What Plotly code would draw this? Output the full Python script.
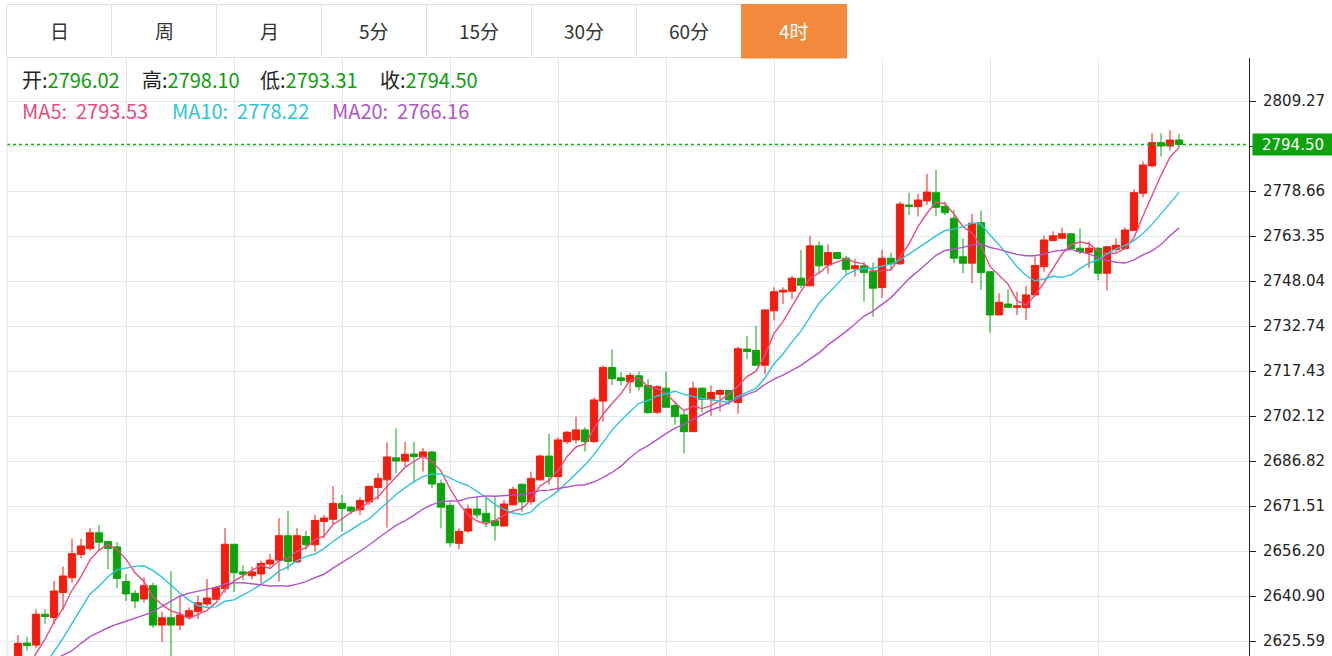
import plotly.graph_objects as go
import pandas as pd

# ---------------- data (4h candles) ----------------
opens = [2616.5, 2624.9, 2624.2, 2634.7, 2633.6, 2642.1, 2647.1, 2655.0, 2657.0, 2662.4,
         2659.4, 2657.6, 2645.8, 2641.8, 2639.9, 2644.4, 2631.0, 2633.5, 2631.0, 2633.9,
         2635.6, 2638.2, 2639.8, 2643.4, 2658.5, 2649.1, 2647.8, 2648.4, 2651.8, 2653.1,
         2661.4, 2652.5, 2661.1, 2658.3, 2666.2, 2667.0, 2672.4, 2671.1, 2670.2, 2672.9,
         2677.8, 2680.4, 2687.9, 2686.8, 2689.2, 2688.3, 2689.9, 2679.2, 2671.7, 2658.8,
         2663.0, 2670.5, 2669.0, 2666.5, 2664.7, 2671.9, 2678.9, 2673.0, 2680.4, 2688.5,
         2681.5, 2693.4, 2694.0, 2697.4, 2693.4, 2707.2, 2718.6, 2715.1, 2713.8, 2715.8,
         2712.5, 2703.4, 2711.6, 2705.7, 2702.5, 2696.8, 2711.6, 2707.8, 2709.5, 2710.8,
         2706.7, 2724.9, 2724.4, 2719.4, 2737.9, 2744.3, 2744.6, 2749.0, 2746.4, 2760.0,
         2753.5, 2757.7, 2755.8, 2752.2, 2753.2, 2751.4, 2745.8, 2755.8, 2753.9, 2773.9,
         2773.4, 2775.3, 2778.1, 2773.4, 2769.4, 2756.3, 2754.1, 2767.9, 2751.2, 2736.5,
         2740.2, 2739.1, 2739.0, 2743.3, 2752.9, 2761.8, 2762.6, 2764.1, 2759.2, 2757.8,
         2759.2, 2750.7, 2758.8, 2759.1, 2765.2, 2777.9, 2787.2, 2795.1, 2794.0, 2796.02]
highs = [2627.6, 2627.1, 2636.4, 2636.4, 2646.0, 2650.9, 2660.4, 2660.4, 2664.0, 2665.1,
         2659.6, 2659.2, 2648.3, 2642.9, 2647.3, 2645.4, 2635.6, 2649.3, 2641.2, 2637.0,
         2641.1, 2646.7, 2644.4, 2664.0, 2658.6, 2651.3, 2650.9, 2652.9, 2655.2, 2667.4,
         2669.9, 2664.0, 2663.0, 2668.5, 2668.5, 2678.3, 2675.3, 2671.5, 2674.5, 2678.4,
         2682.6, 2693.2, 2697.9, 2693.3, 2693.3, 2691.3, 2690.1, 2680.4, 2672.7, 2663.9,
         2671.9, 2675.0, 2674.1, 2674.7, 2673.6, 2678.1, 2679.2, 2683.2, 2689.0, 2696.0,
         2694.8, 2697.0, 2701.9, 2698.3, 2708.4, 2719.3, 2724.8, 2717.2, 2716.9, 2717.2,
         2714.6, 2712.6, 2717.2, 2707.0, 2703.6, 2713.8, 2711.9, 2712.5, 2711.2, 2711.0,
         2725.7, 2729.4, 2732.8, 2738.4, 2745.9, 2745.9, 2749.8, 2758.6, 2763.4, 2761.5,
         2760.5, 2757.9, 2756.6, 2755.6, 2754.6, 2754.3, 2758.7, 2757.7, 2775.1, 2778.1,
         2777.7, 2784.5, 2785.8, 2775.1, 2772.2, 2762.6, 2770.9, 2772.0, 2751.4, 2743.9,
         2745.2, 2744.4, 2746.4, 2756.3, 2763.5, 2764.9, 2766.2, 2764.3, 2765.9, 2761.5,
         2759.5, 2760.0, 2762.6, 2766.3, 2779.3, 2788.7, 2798.3, 2798.3, 2799.4, 2798.10]
lows = [2614.0, 2622.3, 2623.1, 2631.4, 2631.4, 2636.1, 2645.4, 2653.8, 2656.3, 2656.3,
        2650.0, 2643.5, 2639.2, 2636.7, 2638.6, 2630.1, 2625.2, 2619.5, 2629.3, 2633.1,
        2633.1, 2637.3, 2639.5, 2642.0, 2642.3, 2646.3, 2646.6, 2645.4, 2650.9, 2645.8,
        2649.7, 2652.2, 2656.6, 2656.0, 2660.5, 2665.4, 2662.8, 2668.7, 2668.5, 2671.9,
        2673.6, 2664.2, 2682.6, 2684.9, 2679.5, 2683.2, 2677.5, 2663.9, 2657.7, 2656.8,
        2662.4, 2667.2, 2664.3, 2659.7, 2664.5, 2671.7, 2669.4, 2671.9, 2680.1, 2678.7,
        2676.7, 2692.6, 2692.8, 2690.0, 2693.0, 2700.2, 2712.7, 2712.5, 2709.9, 2710.8,
        2702.8, 2702.8, 2705.0, 2699.1, 2689.4, 2696.7, 2703.3, 2702.1, 2703.6, 2705.9,
        2702.8, 2721.4, 2719.1, 2716.4, 2734.6, 2740.2, 2741.8, 2745.6, 2746.3, 2750.7,
        2750.5, 2755.4, 2750.5, 2749.5, 2741.0, 2735.9, 2742.3, 2751.6, 2753.5, 2770.5,
        2770.0, 2773.9, 2770.0, 2770.5, 2754.1, 2750.7, 2747.3, 2745.0, 2730.5, 2736.4,
        2738.8, 2736.5, 2734.8, 2742.7, 2751.2, 2761.5, 2762.2, 2758.8, 2757.1, 2752.4,
        2748.4, 2744.8, 2758.0, 2758.8, 2765.1, 2776.5, 2786.7, 2790.4, 2792.4, 2793.31]
closes = [2624.8, 2624.0, 2634.7, 2633.9, 2642.6, 2647.7, 2655.3, 2657.9, 2662.4, 2659.2,
          2657.1, 2646.9, 2641.6, 2639.2, 2644.4, 2631.0, 2633.5, 2631.0, 2634.4, 2635.9,
          2638.6, 2640.2, 2643.7, 2658.5, 2648.8, 2648.3, 2649.1, 2652.0, 2653.1, 2661.4,
          2652.7, 2661.4, 2658.3, 2666.6, 2667.4, 2672.4, 2670.7, 2669.8, 2673.4, 2678.2,
          2680.9, 2688.2, 2686.8, 2689.1, 2688.3, 2689.9, 2679.0, 2671.1, 2659.0, 2662.9,
          2670.5, 2668.5, 2666.1, 2664.8, 2672.2, 2677.2, 2672.9, 2680.9, 2688.5, 2681.5,
          2694.0, 2696.6, 2697.4, 2693.4, 2707.6, 2718.6, 2714.8, 2714.2, 2715.9, 2712.1,
          2703.3, 2712.1, 2705.1, 2701.9, 2696.8, 2711.6, 2707.8, 2710.1, 2710.8, 2707.6,
          2725.0, 2724.1, 2719.4, 2738.2, 2744.4, 2744.9, 2749.0, 2746.6, 2760.0, 2753.2,
          2757.7, 2755.7, 2752.0, 2753.2, 2750.9, 2745.6, 2755.8, 2753.9, 2774.2, 2773.4,
          2775.6, 2778.3, 2773.1, 2771.3, 2755.8, 2754.1, 2767.7, 2750.9, 2736.5, 2740.8,
          2739.1, 2739.6, 2743.3, 2753.3, 2762.0, 2763.4, 2764.1, 2759.1, 2758.0, 2759.2,
          2750.7, 2759.7, 2760.2, 2765.4, 2778.1, 2787.5, 2795.1, 2794.0, 2796.0, 2794.50]

# moving-average values for the first candles (their windows start before the visible data)
ma5_head = [2611.5, 2616.5, 2621.4, 2626.2]
ma10_head = [2604.0, 2608.5, 2613.0, 2617.4, 2621.9, 2626.5, 2631.6, 2636.7, 2641.6]
ma20_head = [2613.2, 2614.7, 2616.2, 2617.7, 2619.2, 2620.7, 2622.3, 2624.8, 2627.1, 2628.6,
             2630.1, 2631.3, 2632.3, 2633.3, 2634.4, 2635.6, 2637.3, 2639.0, 2640.9]

# header values as printed in the chart
header_ohlc = [("开", 2796.02), ("高", 2798.10), ("低", 2793.31), ("收", 2794.50)]
header_ma = [("MA5", 2793.53), ("MA10", 2778.22), ("MA20", 2766.16)]

tick_vals = [2625.59, 2640.90, 2656.20, 2671.51, 2686.82, 2702.12, 2717.43, 2732.74,
             2748.04, 2763.35, 2778.66, 2793.96, 2809.27]
tick_text = ["2625.59", "2640.90", "2656.20", "2671.51", "2686.82", "2702.12", "2717.43",
             "2732.74", "2748.04", "2763.35", "2778.66", "", "2809.27"]

buttons = ["日", "周", "月", "5分", "15分", "30分", "60分", "4时"]
active_button = "4时"

last_price = closes[-1]
ma_colors = ["#eb4a7e", "#2ec3db", "#b153c9"]

# ---------------- derived ----------------
idx = list(range(len(closes)))
cs = pd.Series(closes)


def moving_avg(n, head):
    m = cs.rolling(n).mean().tolist()
    m[:len(head)] = head
    return m


ma_series = [moving_avg(5, ma5_head), moving_avg(10, ma10_head), moving_avg(20, ma20_head)]

# ---------------- figure ----------------
W, H = 1332, 656
ML, MR, MT, MB = 7, 83, 58, 0
PW, PH = W - ML - MR, H - MT - MB
RED, GREEN = "#f21d0e", "#0ea30e"
GRID = "#e1e9f0"
CJK = "Noto Sans CJK SC"


def px_x(px):
    return (px - ML) / PW


def px_y(py):
    return (H - MB - py) / PH


fig = go.Figure()
fig.add_trace(go.Candlestick(
    x=idx, open=opens, high=highs, low=lows, close=closes,
    increasing=dict(line=dict(color=RED, width=1), fillcolor=RED),
    decreasing=dict(line=dict(color=GREEN, width=1), fillcolor=GREEN),
    whiskerwidth=0, showlegend=False, hoverinfo="skip"))

for (name, _), color, vals in zip(header_ma, ma_colors, ma_series):
    fig.add_trace(go.Scatter(x=idx, y=vals, mode="lines", name=name,
                             line=dict(color=color, width=1.4), showlegend=False,
                             hoverinfo="skip"))

shapes = []
# last price dotted line
shapes.append(dict(type="line", xref="paper", x0=0, x1=1, yref="y", y0=last_price, y1=last_price,
                   line=dict(color="#19a819", width=1.5, dash="dot"), layer="above"))
# left border of chart
shapes.append(dict(type="line", xref="paper", x0=0, x1=0, yref="paper", y0=0, y1=1,
                   line=dict(color="#dde4ea", width=1)))
# button bar
bx0, bw, by0, by1 = 6.5, 105.0, 4.5, 57.5
for i, b in enumerate(buttons):
    x0, x1 = bx0 + i * bw, bx0 + (i + 1) * bw
    if b == active_button:
        shapes.append(dict(type="rect", xref="paper", yref="paper",
                           x0=px_x(x0), x1=px_x(x1), y0=px_y(by1 + 0.5), y1=px_y(by0),
                           fillcolor="#f28a3e", line=dict(color="#f28a3e", width=1)))
    else:
        shapes.append(dict(type="rect", xref="paper", yref="paper",
                           x0=px_x(x0), x1=px_x(x1), y0=px_y(by1), y1=px_y(by0),
                           fillcolor="white", line=dict(color="#dcdfe3", width=1)))

annotations = []
for i, b in enumerate(buttons):
    annotations.append(dict(
        xref="paper", yref="paper", x=px_x(bx0 + (i + 0.5) * bw), y=px_y(31),
        text=b, showarrow=False, xanchor="center", yanchor="middle",
        font=dict(family=CJK, size=19,
                  color="white" if b == active_button else "#333333")))

# OHLC header row
green_txt = "#0c9e0c"
ohlc_x = [20, 140, 258, 378]
for (lab, val), xp in zip(header_ohlc, ohlc_x):
    annotations.append(dict(
        xref="paper", yref="paper", x=px_x(xp), y=px_y(80), xanchor="left", yanchor="middle",
        showarrow=False,
        text=f"{lab}:<span style='color:{green_txt}'>{val:.2f}</span>",
        font=dict(family=CJK, size=20, color="#222222")))

# MA header row
ma_x = [20, 170, 330]
for (name, val), color, xp in zip(header_ma, ma_colors, ma_x):
    annotations.append(dict(
        xref="paper", yref="paper", x=px_x(xp), y=px_y(110), xanchor="left", yanchor="middle",
        showarrow=False, text=f"{name}:&nbsp; {val:.2f}",
        font=dict(family=CJK, size=20, color=color)))

# last price tag
annotations.append(dict(
    xref="paper", yref="y", x=1, y=last_price, xanchor="left", yanchor="middle", xshift=3,
    showarrow=False, text=f"{last_price:.2f}", bgcolor="#0ca30c", width=80, height=21,
    align="center", borderpad=0,
    font=dict(family="DejaVu Sans", size=15, color="white")))

fig.update_layout(
    width=W, height=H,
    margin=dict(l=ML, r=MR, t=MT, b=MB, pad=0),
    paper_bgcolor="white", plot_bgcolor="white",
    showlegend=False, hovermode=False,
    boxgap=0.1, boxgroupgap=0.1,
    shapes=shapes, annotations=annotations,
    xaxis=dict(range=[-11 / 9.0, (W - MR - 18) / 9.0],
               tickvals=list(range(12, 121, 12)), showticklabels=False, ticks="",
               showgrid=True, gridcolor=GRID, gridwidth=1, zeroline=False, showline=False,
               rangeslider=dict(visible=False), fixedrange=True),
    yaxis=dict(side="right", range=[2620.49, 2823.90], tickvals=tick_vals, ticktext=tick_text,
               showgrid=True, gridcolor=GRID, gridwidth=1, zeroline=False,
               showline=True, linecolor="#222222", linewidth=1,
               ticks="outside", ticklen=6, tickcolor="#222222", ticklabelstandoff=4,
               tickfont=dict(family="DejaVu Sans", size=15, color="#222222"), fixedrange=True),
)

fig.write_html("out.html")
